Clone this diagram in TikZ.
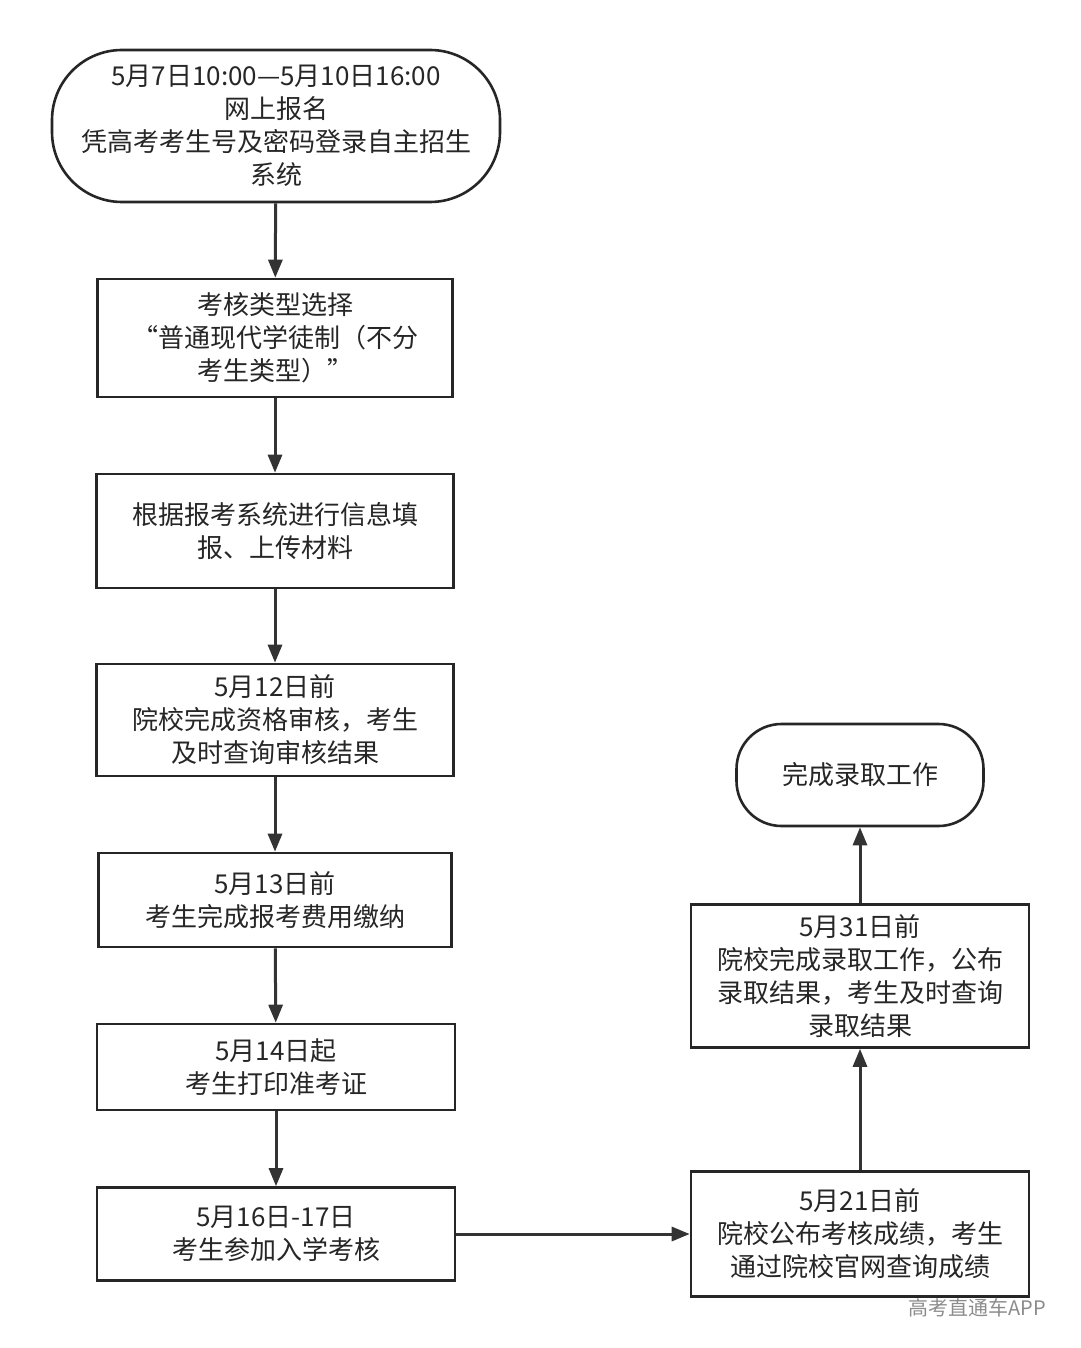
\documentclass[tikz,border=0pt]{standalone}
\usepackage{fontspec}
\setmainfont{Noto Sans CJK SC}
\usetikzlibrary{arrows.meta}
\begin{document}
\begin{tikzpicture}[x=1pt,y=-1pt,
  box/.style={draw=black!85,line width=2.6pt,align=center,font=\fontsize{26}{33}\selectfont,inner sep=0pt,text=black!85},
  term/.style={box,rounded corners=60pt},
  arr/.style={draw=black!80,line width=3pt,-{Triangle[length=18pt,width=14pt]}}]
\fill[white] (0,0) rectangle (1080,1348);
\useasboundingbox (0,0) rectangle (1080,1348);
\node[term,minimum width=448pt,minimum height=152pt,rounded corners=70pt] (a) at (276,126) {5月7日10:00—5月10日16:00\\网上报名\\凭高考考生号及密码登录自主招生\\系统};
\node[box,minimum width=355pt,minimum height=118pt] (b) at (275,338) {考核类型选择\\“普通现代学徒制（不分\\考生类型）”};
\node[box,minimum width=357pt,minimum height=114pt] (c) at (275,531) {根据报考系统进行信息填\\报、上传材料};
\node[box,minimum width=357pt,minimum height=112pt] (d) at (275,720) {5月12日前\\院校完成资格审核，考生\\及时查询审核结果};
\node[box,minimum width=353pt,minimum height=94pt] (e) at (275,900) {5月13日前\\考生完成报考费用缴纳};
\node[box,minimum width=358pt,minimum height=86pt] (f) at (276,1067) {5月14日起\\考生打印准考证};
\node[box,minimum width=358pt,minimum height=93pt] (g) at (276,1234) {5月16日-17日\\考生参加入学考核};
\node[box,minimum width=338pt,minimum height=125pt] (h) at (860,1234) {5月21日前\\院校公布考核成绩，考生\\通过院校官网查询成绩};
\node[box,minimum width=338pt,minimum height=143pt] (i) at (860,976) {5月31日前\\院校完成录取工作，公布\\录取结果，考生及时查询\\录取结果};
\node[term,minimum width=247pt,minimum height=102pt,rounded corners=45pt] (j) at (860,775) {完成录取工作};
\node[font=\fontsize{20}{20}\selectfont,text=black!45] (w) at (977,1308) {高考直通车APP};
\draw[arr] (a) -- (b);
\draw[arr] (b) -- (c);
\draw[arr] (c) -- (d);
\draw[arr] (d) -- (e);
\draw[arr] (e) -- (f);
\draw[arr] (f) -- (g);
\draw[arr] (g) -- (h);
\draw[arr] (h) -- (i);
\draw[arr] (i) -- (j);
\end{tikzpicture}
\end{document}
